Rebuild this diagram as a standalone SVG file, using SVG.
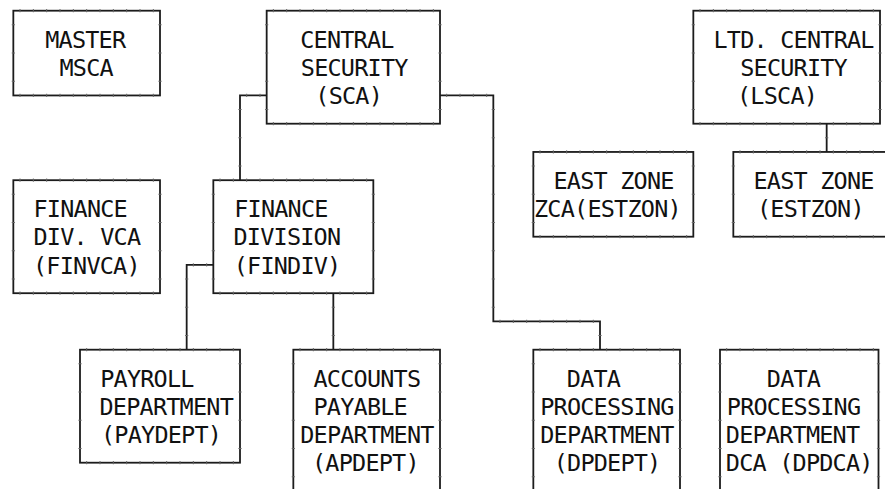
<svg xmlns="http://www.w3.org/2000/svg" width="885" height="489" viewBox="0 0 885 489">
<style>
.b{fill:none;stroke:#1c1c1c;stroke-width:1.8}
.c{fill:none;stroke:#1c1c1c;stroke-width:1.8}
.th{fill:none;stroke:#666;stroke-width:3.2;stroke-dasharray:1 12.333;stroke-dashoffset:7.163}
.tv{fill:none;stroke:#666;stroke-width:3.2;stroke-dasharray:1 27.25;stroke-dashoffset:14.625}
.t{font-family:"DejaVu Sans Mono","Liberation Mono",monospace;font-size:23.5px;letter-spacing:-0.8px;fill:#111}
</style>
<rect width="885" height="489" fill="#fff"/>
<g id="connectors">
<path class="c" d="M266.67 95.45H240V180.2M440 95.45H493.33V321.45H600V349.7M213.33 264.95H186.67V349.7M333.33 293.2V349.7M826.67 123.7V151.95"/>
<path class="th" d="M240 95.45H266.67M440 95.45H493.33M493.33 321.45H600M186.67 264.95H213.33"/>
<path class="tv" d="M240 95.45V180.2M493.33 95.45V321.45M600 321.45V349.7M186.67 264.95V349.7M333.33 293.2V349.7M826.67 123.7V151.95"/>
</g>
<g id="master">
<rect class="b" x="13.33" y="10.7" width="146.67" height="84.75"/>
<path class="th" d="M13.33 10.7H160M13.33 95.45H160"/><path class="tv" d="M13.33 10.7V95.45M160 10.7V95.45"/>
<text class="t" x="45.2" y="47.55">MASTER</text>
<text class="t" x="59.5" y="75.8">MSCA</text>
</g>
<g id="central">
<rect class="b" x="266.67" y="10.7" width="173.33" height="113"/>
<path class="th" d="M266.67 10.7H440M266.67 123.7H440"/><path class="tv" d="M266.67 10.7V123.7M440 10.7V123.7"/>
<text class="t" x="300.2" y="47.55">CENTRAL</text>
<text class="t" x="300.8" y="75.8">SECURITY</text>
<text class="t" x="315.3" y="104.05">(SCA)</text>
</g>
<g id="ltd">
<rect class="b" x="693.33" y="10.7" width="186.67" height="113"/>
<path class="th" d="M693.33 10.7H880M693.33 123.7H880"/><path class="tv" d="M693.33 10.7V123.7M880 10.7V123.7"/>
<text class="t" x="713.5" y="47.55">LTD. CENTRAL</text>
<text class="t" x="740.2" y="75.8">SECURITY</text>
<text class="t" x="737" y="104.05">(LSCA)</text>
</g>
<g id="eastzone-zca">
<rect class="b" x="533.33" y="151.95" width="160" height="84.75"/>
<path class="th" d="M533.33 151.95H693.33M533.33 236.7H693.33"/><path class="tv" d="M533.33 151.95V236.7M693.33 151.95V236.7"/>
<text class="t" x="553.5" y="188.8">EAST ZONE</text>
<text class="t" x="534" y="217.05">ZCA(ESTZON)</text>
</g>
<g id="eastzone">
<rect class="b" x="733.33" y="151.95" width="160" height="84.75"/>
<path class="th" d="M733.33 151.95H893.33M733.33 236.7H893.33"/><path class="tv" d="M733.33 151.95V236.7"/>
<text class="t" x="753.5" y="188.8">EAST ZONE</text>
<text class="t" x="757" y="217.05">(ESTZON)</text>
</g>
<g id="finvca">
<rect class="b" x="13.33" y="180.2" width="146.67" height="113"/>
<path class="th" d="M13.33 180.2H160M13.33 293.2H160"/><path class="tv" d="M13.33 180.2V293.2M160 180.2V293.2"/>
<text class="t" x="33.5" y="217.05">FINANCE</text>
<text class="t" x="33.5" y="245.3">DIV. VCA</text>
<text class="t" x="33" y="273.55">(FINVCA)</text>
</g>
<g id="findiv">
<rect class="b" x="213.33" y="180.2" width="160" height="113"/>
<path class="th" d="M213.33 180.2H373.33M213.33 293.2H373.33"/><path class="tv" d="M213.33 180.2V293.2M373.33 180.2V293.2"/>
<text class="t" x="234.2" y="217.05">FINANCE</text>
<text class="t" x="233.5" y="245.3">DIVISION</text>
<text class="t" x="233.7" y="273.55">(FINDIV)</text>
</g>
<g id="paydept">
<rect class="b" x="80" y="349.7" width="160" height="113"/>
<path class="th" d="M80 349.7H240M80 462.7H240"/><path class="tv" d="M80 349.7V462.7M240 349.7V462.7"/>
<text class="t" x="100.2" y="386.55">PAYROLL</text>
<text class="t" x="99.5" y="414.8">DEPARTMENT</text>
<text class="t" x="101" y="443.05">(PAYDEPT)</text>
</g>
<g id="apdept">
<rect class="b" x="293.33" y="349.7" width="146.67" height="141.25"/>
<path class="th" d="M293.33 349.7H440"/><path class="tv" d="M293.33 349.7V490.95M440 349.7V490.95"/>
<text class="t" x="313.5" y="386.55">ACCOUNTS</text>
<text class="t" x="313.5" y="414.8">PAYABLE</text>
<text class="t" x="300.2" y="443.05">DEPARTMENT</text>
<text class="t" x="312" y="471.3">(APDEPT)</text>
</g>
<g id="dpdept">
<rect class="b" x="533.33" y="349.7" width="146.67" height="141.25"/>
<path class="th" d="M533.33 349.7H680"/><path class="tv" d="M533.33 349.7V490.95M680 349.7V490.95"/>
<text class="t" x="566.8" y="386.55">DATA</text>
<text class="t" x="540.2" y="414.8">PROCESSING</text>
<text class="t" x="540.2" y="443.05">DEPARTMENT</text>
<text class="t" x="553.7" y="471.3">(DPDEPT)</text>
</g>
<g id="dpdca">
<rect class="b" x="720" y="349.7" width="158.5" height="141.25"/>
<path class="th" d="M720 349.7H878.5"/><path class="tv" d="M720 349.7V490.95M878.5 349.7V490.95"/>
<text class="t" x="766.8" y="386.55">DATA</text>
<text class="t" x="726.8" y="414.8">PROCESSING</text>
<text class="t" x="725.8" y="443.05">DEPARTMENT</text>
<text class="t" x="725.8" y="471.3">DCA (DPDCA)</text>
</g>
</svg>
